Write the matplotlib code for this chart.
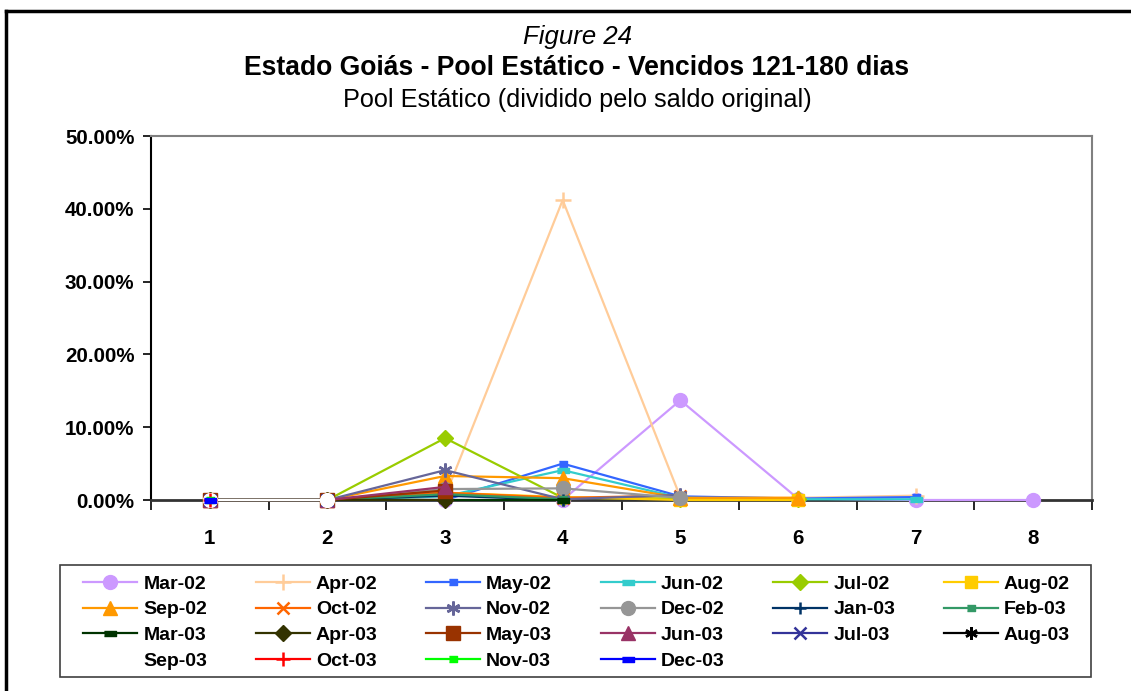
import matplotlib
matplotlib.use("Agg")
import matplotlib.pyplot as plt
from matplotlib.lines import Line2D
from matplotlib.patches import Rectangle
from matplotlib.ticker import FuncFormatter, MultipleLocator

# ---- data (percent) ----
periods = [1, 2, 3, 4, 5, 6, 7, 8]
series_names = ["Mar-02", "Apr-02", "May-02", "Jun-02", "Jul-02", "Aug-02",
                "Sep-02", "Oct-02", "Nov-02", "Dec-02", "Jan-03", "Feb-03",
                "Mar-03", "Apr-03", "May-03", "Jun-03", "Jul-03", "Aug-03",
                "Sep-03", "Oct-03", "Nov-03", "Dec-03"]
mar02 = [0, 0, 0, 0, 13.7, 0.2, 0, 0]
apr02 = [0, 0, 0.5, 41.2, 0.4, 0.3, 0.6]
may02 = [0, 0, 0, 5.0, 0.5, 0.2, 0.4]
jun02 = [0, 0, 0.5, 4.1, 0.3, 0.1, 0.1]
jul02 = [0, 0, 8.5, 0.3, 0.2, 0.1]
aug02 = [0, 0, 1.0, 0.4, 0.0, 0.0]
sep02 = [0, 0, 3.3, 3.0, 0.3, 0.3]
oct02 = [0, 0, 1.0, 0.3, 0.6]
nov02 = [0, 0, 4.1, 0.1, 0.7]
dec02 = [0, 0, 1.5, 1.6, 0.3]
jan03 = [0, 0, 0.6, 0.0]
feb03 = [0, 0, 0.8, 0.1]
mar03 = [0, 0, 0.0, 0.0]
apr03 = [0, 0, 0.0]
may03 = [0, 0, 1.3]
jun03 = [0, 0, 1.8]
jul03 = [0, 0]
aug03 = [0, 0]
sep03 = [0, 0]
oct03 = [0]
nov03 = [0]
dec03 = [0]
values = [mar02, apr02, may02, jun02, jul02, aug02, sep02, oct02, nov02, dec02,
          jan03, feb03, mar03, apr03, may03, jun03, jul03, aug03, sep03,
          oct03, nov03, dec03]

# ---- styles ----
small_rect = [(-1, -0.7), (1, -0.7), (1, 0.7), (-1, 0.7)]
dash_rect = [(-1, -0.4), (1, -0.4), (1, 0.4), (-1, 0.4)]
asterisk = (6, 2, 0)
styles = [
    ("#CC99FF", "o", 10),
    ("#FFCC99", "+", 11),
    ("#3366FF", small_rect, 6),
    ("#33CCCC", dash_rect, 9),
    ("#99CC00", "D", 8),
    ("#FFCC00", "s", 9),
    ("#FF9900", "^", 10),
    ("#FF6600", "x", 8),
    ("#666699", asterisk, 10),
    ("#969696", "o", 10),
    ("#003366", "+", 9),
    ("#339966", small_rect, 6),
    ("#003300", dash_rect, 9),
    ("#333300", "D", 8),
    ("#993300", "s", 10),
    ("#993366", "^", 10),
    ("#333399", "x", 8),
    ("#000000", asterisk, 9),
    ("#FFFFFF", "o", 10),
    ("#FF0000", "+", 10),
    ("#00FF00", small_rect, 6),
    ("#0000FF", dash_rect, 9),
]

W, H = 1131, 691
fig = plt.figure(figsize=(W / 100, H / 100), dpi=100)
fig.patch.set_facecolor("white")

ax = fig.add_axes([151 / W, 1 - 500 / H, (1092 - 151) / W, (500 - 136) / H])

handles = []
for name, vals, (col, mk, ms) in zip(series_names, values, styles):
    x = periods[:len(vals)]
    mew = 1.8 if mk in ("+", "x", asterisk) else 1.0
    (ln,) = ax.plot(x, vals, color=col, lw=1.6, marker=mk, markersize=ms,
                    markerfacecolor=col, markeredgecolor=col, markeredgewidth=mew,
                    label=name, clip_on=False, zorder=3)
    handles.append(ln)

ax.set_xlim(0.5, 8.5)
ax.set_ylim(0, 50)
ax.yaxis.set_major_locator(MultipleLocator(10))
ax.yaxis.set_major_formatter(FuncFormatter(lambda v, p: f"{v:.2f}%"))
ax.set_xticks(periods)
ax.set_xticks([p + 0.5 for p in [0] + periods], minor=True)
ax.tick_params(axis="x", which="major", length=0, pad=21)
ax.tick_params(axis="x", which="minor", length=7, width=1.2, direction="out", color="black")
ax.tick_params(axis="y", length=6, width=1.2, direction="out", pad=6)
for lab in ax.get_xticklabels() + ax.get_yticklabels():
    lab.set_fontfamily("Liberation Sans")
    lab.set_fontweight("bold")
    lab.set_fontsize(14.8)

ax.spines["top"].set_color("#808080")
ax.spines["right"].set_color("#808080")
ax.spines["top"].set_linewidth(1.5)
ax.spines["right"].set_linewidth(1.5)
ax.spines["left"].set_color("black")
ax.spines["left"].set_linewidth(1.5)
ax.spines["bottom"].set_color("#333333")
ax.spines["bottom"].set_linewidth(2)

# ---- titles ----
fig.text(578 / W, 1 - 37 / H, "Figure 24", ha="center", va="center",
         fontsize=18.5, style="italic", family="Liberation Sans")
fig.text(577 / W, 1 - 68 / H, "Estado Goiás - Pool Estático - Vencidos 121-180 dias",
         ha="center", va="center", fontsize=19.1, fontweight="bold",
         family="Liberation Sans")
fig.text(577 / W, 1 - 100 / H, "Pool Estático (dividido pelo saldo original)",
         ha="center", va="center", fontsize=18.2, family="Liberation Sans")

# ---- figure border (left & top visible) ----
fig.add_artist(Line2D([6 / W, 6 / W], [0, 1 - 11 / H], transform=fig.transFigure,
                      color="black", lw=2.5))
fig.add_artist(Line2D([6 / W, 1], [1 - 11 / H, 1 - 11 / H], transform=fig.transFigure,
                      color="black", lw=2.5))

# ---- legend frame ----
fig.add_artist(Rectangle((60 / W, 1 - 677 / H), (1091 - 60) / W, (677 - 565) / H,
                         transform=fig.transFigure, facecolor="white",
                         edgecolor="#404040", lw=1.2, zorder=1))

# ---- legend: row-major layout with 6 columns ----
ncol = 6
nrows = 4
order = []
for c in range(ncol):
    for r in range(nrows):
        idx = r * ncol + c
        if idx < len(handles):
            order.append(idx)
leg = fig.legend([handles[i] for i in order], [series_names[i] for i in order],
                 ncol=ncol, loc="upper left",
                 bbox_to_anchor=(83 / W, 1 - 674 / H, (1070 - 83) / W, (674 - 575) / H),
                 mode="expand", borderaxespad=0, frameon=False,
                 handlelength=2.8, handletextpad=0.3, labelspacing=0.42,
                 borderpad=0.0, columnspacing=0.5,
                 prop={"family": "Liberation Sans", "weight": "bold", "size": 14})
leg.set_zorder(2)

fig.savefig("out.png", dpi=100, facecolor="white")
